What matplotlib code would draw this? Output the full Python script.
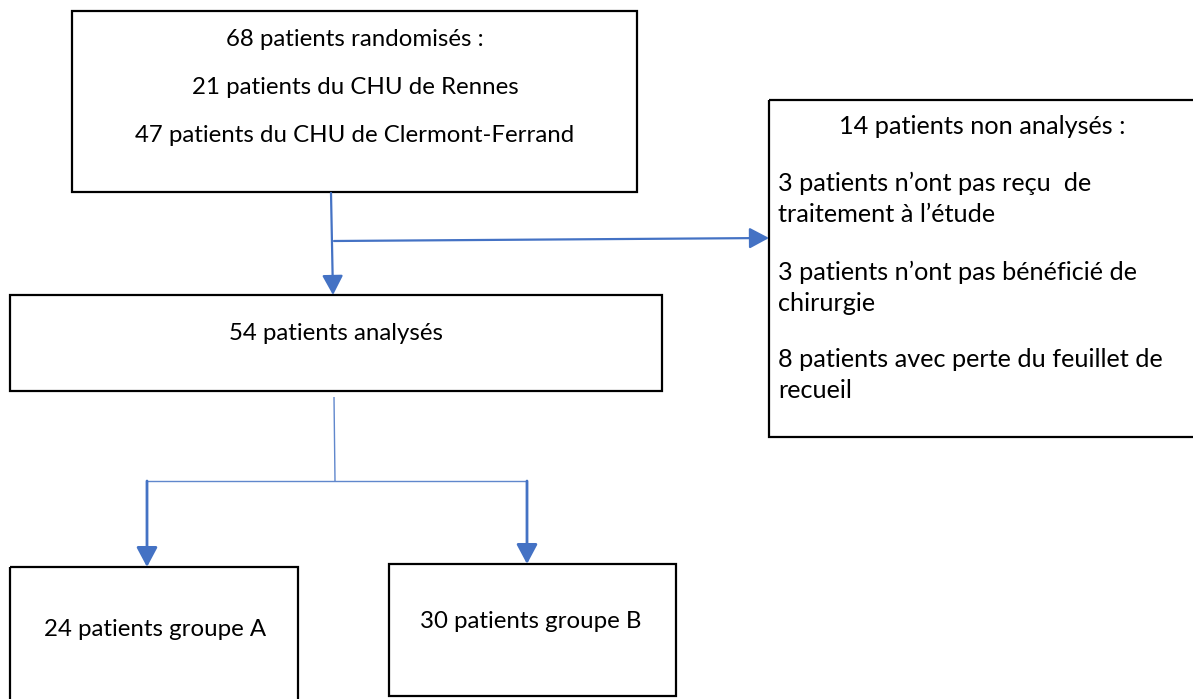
import matplotlib
matplotlib.use("Agg")
import matplotlib.pyplot as plt
from matplotlib.patches import Rectangle, FancyArrowPatch

# ---------- textes du diagramme ----------
RANDOMISES = ["68 patients randomisés :",
              "21 patients du CHU de Rennes",
              "47 patients du CHU de Clermont-Ferrand"]
ANALYSES = "54 patients analysés"
NON_ANALYSES_TITRE = "14 patients non analysés :"
NON_ANALYSES = ["3 patients n’ont pas reçu  de\ntraitement à l’étude",
                "3 patients n’ont pas bénéficié de\nchirurgie",
                "8 patients avec perte du feuillet de\nrecueil"]
GROUPES = ["24 patients groupe A", "30 patients groupe B"]

# ---------- mise en page (pixels) ----------
W, H = 1193, 699
BLUE = "#4472C4"
FONT = ["Lato", "DejaVu Sans"]
FS = 17.3      # boîtes de gauche
FS_R = 18.2    # boîte de droite

fig = plt.figure(figsize=(W / 100, H / 100), dpi=100)
ax = fig.add_axes([0, 0, 1, 1])
ax.set_xlim(0, W)
ax.set_ylim(H, 0)
ax.axis("off")


def box(x0, y0, x1, y1):
    ax.add_patch(Rectangle((x0, y0), x1 - x0, y1 - y0, fill=False,
                           edgecolor="black", lw=1.6, clip_on=False))


def arrow(p0, p1, lw=1.6):
    ax.add_patch(FancyArrowPatch(p0, p1, arrowstyle="-|>,head_length=0.75,head_width=0.4",
                                 mutation_scale=16, color=BLUE, lw=lw,
                                 shrinkA=0, shrinkB=0))


def line(xs, ys, lw=1.0):
    ax.plot(xs, ys, color=BLUE, lw=lw, alpha=0.85, solid_capstyle="butt")


# boîtes
box(72, 11, 637, 192)
box(10, 295, 662, 391)
box(769, 100, 1200, 437)
box(10, 567, 298, 710)
box(389, 564, 676, 696)

# textes
for txt, y in zip(RANDOMISES, [40, 88, 136]):
    ax.text(355, y, txt, ha="center", va="center", fontsize=FS, family=FONT)
ax.text(336, 334, ANALYSES, ha="center", va="center", fontsize=FS, family=FONT)
ax.text(982, 127, NON_ANALYSES_TITRE, ha="center", va="center", fontsize=FS_R, family=FONT)
for txt, y in zip(NON_ANALYSES, [199, 288, 375]):
    ax.text(778, y, txt, ha="left", va="center", fontsize=FS_R, family=FONT,
            linespacing=1.45)
ax.text(155, 629, GROUPES[0], ha="center", va="center", fontsize=FS, family=FONT)
ax.text(531, 621, GROUPES[1], ha="center", va="center", fontsize=FS, family=FONT)

# flèches
arrow((331, 193), (333, 295))
arrow((334, 241), (769, 238))
line([334, 335], [397, 481])
line([146, 527], [481, 481])
arrow((147, 481), (147, 567), lw=2)
arrow((527, 481), (527, 564), lw=2)

fig.savefig("out.png", dpi=100, facecolor="white")
